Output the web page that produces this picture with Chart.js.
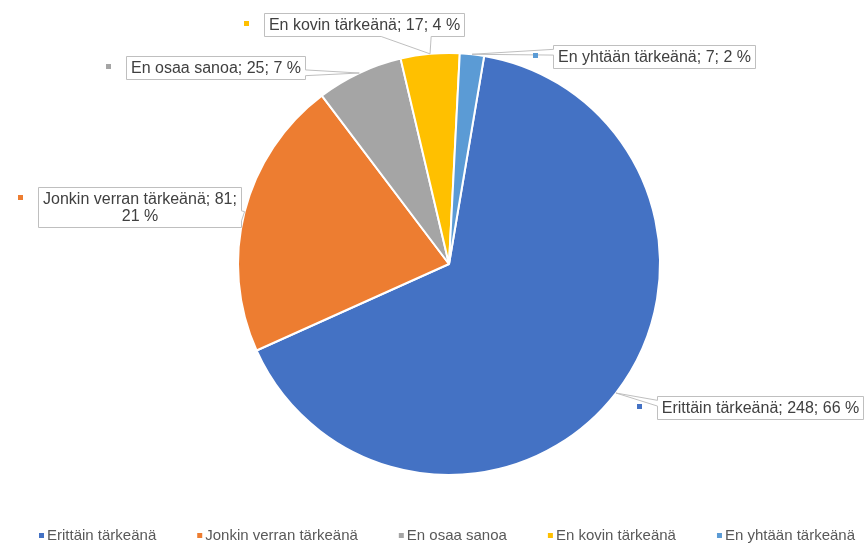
<!DOCTYPE html>
<html><head><meta charset="utf-8">
<script src="https://cdn.jsdelivr.net/npm/chart.js@4/dist/chart.umd.min.js"></script>
<style>html,body{margin:0;padding:0;background:#fff;overflow:hidden}canvas{display:block}</style>
</head><body>
<canvas id="c" width="865" height="543"></canvas>
<script>
// ---- data ----
const categories = ['Erittäin tärkeänä', 'Jonkin verran tärkeänä', 'En osaa sanoa', 'En kovin tärkeänä', 'En yhtään tärkeänä'];
const counts = [248, 81, 25, 17, 7];
const percents = [66, 21, 7, 4, 2];
const colors = ['#4472C4', '#ED7D31', '#A5A5A5', '#FFC000', '#5B9BD5'];

// ---- layout (callout box top-left offset from the slice's rim anchor) ----
const calloutOffsets = [
  {dx: 41, dy: 3},
  {dx: -207, dy: -25},
  {dx: -233, dy: -17},
  {dx: -166, dy: -41},
  {dx: 81, dy: -9}
];
const LABEL_FONT = '16px "Liberation Sans", Arial, sans-serif';
const LEGEND_FONT = '15px "Liberation Sans", Arial, sans-serif';
const MAXW = 201, PADX = 4.5, PADY = 3, LH = 17;

function wrap(ctx, text, maxW) {
  const words = text.split(' ');
  const lines = []; let cur = '';
  for (const w of words) {
    const t = cur ? cur + ' ' + w : w;
    if (ctx.measureText(t).width > maxW && cur) { lines.push(cur); cur = w; }
    else cur = t;
  }
  if (cur) lines.push(cur);
  return lines;
}

function calloutPath(ctx, x, y, w, h, tx, ty) {
  const cx = x + w / 2, cy = y + h / 2, dx = tx - cx, dy = ty - cy;
  const dz = Math.abs(dy) - Math.abs(dx * h / w);
  const x1 = x + w * (dx > 0 ? 7 : 2) / 12, x2 = x + w * (dx > 0 ? 10 : 5) / 12;
  const y1 = y + h * (dy > 0 ? 7 : 2) / 12, y2 = y + h * (dy > 0 ? 10 : 5) / 12;
  const inside = tx >= x && tx <= x + w && ty >= y && ty <= y + h;
  ctx.beginPath();
  ctx.moveTo(x, y);
  if (!inside && dz > 0 && dy < 0) { ctx.lineTo(x1, y); ctx.lineTo(tx, ty); ctx.lineTo(x2, y); }
  ctx.lineTo(x + w, y);
  if (!inside && dz <= 0 && dx > 0) { ctx.lineTo(x + w, y1); ctx.lineTo(tx, ty); ctx.lineTo(x + w, y2); }
  ctx.lineTo(x + w, y + h);
  if (!inside && dz > 0 && dy > 0) { ctx.lineTo(x2, y + h); ctx.lineTo(tx, ty); ctx.lineTo(x1, y + h); }
  ctx.lineTo(x, y + h);
  if (!inside && dz <= 0 && dx < 0) { ctx.lineTo(x, y2); ctx.lineTo(tx, ty); ctx.lineTo(x, y1); }
  ctx.closePath();
}

const calloutPlugin = {
  id: 'callouts',
  afterDatasetsDraw(chart) {
    const ctx = chart.ctx;
    const meta = chart.getDatasetMeta(0);
    ctx.save();
    ctx.font = LABEL_FONT;
    meta.data.forEach((arc, i) => {
      const p = arc.getProps(['x', 'y', 'startAngle', 'endAngle', 'outerRadius'], true);
      const mid = (p.startAngle + p.endAngle) / 2;
      const ax = p.x + Math.cos(mid) * p.outerRadius, ay = p.y + Math.sin(mid) * p.outerRadius;
      const text = categories[i] + '; ' + counts[i] + '; ' + percents[i] + ' %';
      const lines = wrap(ctx, text, MAXW);
      const tw = Math.max(...lines.map(l => ctx.measureText(l).width));
      const w = Math.round(tw + 2 * PADX);
      const h = Math.round(lines.length * LH + 2 * PADY);
      const off = calloutOffsets[i];
      const bx = Math.round(ax + off.dx) + 0.5, by = Math.round(ay + off.dy) + 0.5;
      calloutPath(ctx, bx, by, w, h, ax, ay);
      ctx.fillStyle = '#ffffff';
      ctx.fill();
      ctx.strokeStyle = '#BFBFBF';
      ctx.lineWidth = 1;
      ctx.stroke();
      ctx.fillStyle = '#404040';
      ctx.textAlign = 'center';
      ctx.textBaseline = 'middle';
      lines.forEach((l, k) => ctx.fillText(l, bx + w / 2, by + PADY + LH * k + LH / 2 + 0.5));
      ctx.fillStyle = colors[i];
      ctx.fillRect(Math.round(bx) - 21, Math.round(by) + 7, 5, 5);
    });
    ctx.restore();
  }
};

const legendPlugin = {
  id: 'bottomLegend',
  afterDraw(chart) {
    const ctx = chart.ctx;
    ctx.save();
    ctx.font = LEGEND_FONT;
    ctx.textBaseline = 'middle';
    ctx.textAlign = 'left';
    let x = 39;
    const y = 535;
    categories.forEach((c, i) => {
      ctx.fillStyle = colors[i];
      ctx.fillRect(x, y - 2, 5, 5);
      ctx.fillStyle = '#595959';
      ctx.fillText(c, x + 8, y + 1);
      x += 8 + ctx.measureText(c).width + 41;
    });
    ctx.restore();
  }
};

new Chart(document.getElementById('c'), {
  type: 'pie',
  data: {
    labels: categories,
    datasets: [{
      data: counts,
      backgroundColor: colors,
      borderColor: '#ffffff',
      borderWidth: 2
    }]
  },
  options: {
    responsive: false,
    animation: false,
    devicePixelRatio: 1,
    rotation: 9.6,
    layout: {padding: {top: 52, bottom: 67, left: 237, right: 204}},
    plugins: {legend: {display: false}, tooltip: {enabled: false}, title: {display: false}}
  },
  plugins: [calloutPlugin, legendPlugin]
});
</script>
</body></html>
